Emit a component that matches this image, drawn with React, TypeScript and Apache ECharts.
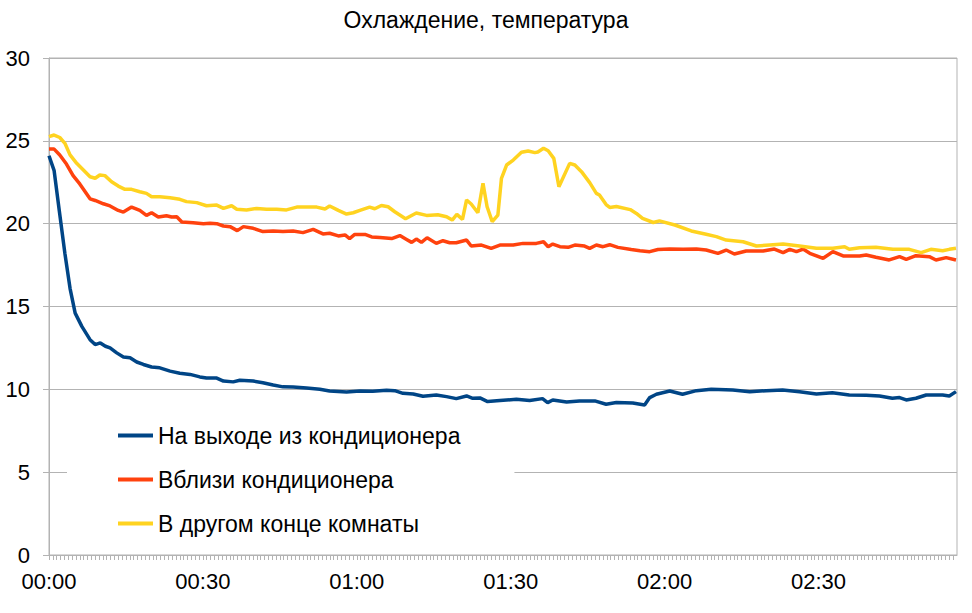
import React, { useEffect, useRef } from "react";
import * as echarts from "echarts";

const TITLE = "Охлаждение, температура";
const SERIES_NAMES = ["На выходе из кондиционера", "Вблизи кондиционера", "В другом конце комнаты"];
const COLORS = ["#004586", "#ff420e", "#ffd320"];

// time in minutes since 00:00
const blueT = [0, 1, 2, 3.1, 4.1, 5.1, 6.4, 8, 9, 10, 11, 11.9, 13.2, 14.5, 15.8, 17.1, 18.4, 20, 21.6, 23.6, 25.5, 27.5, 29.4, 30.7, 32.7, 34, 35.9, 37.2, 39.8, 41.7, 43.7, 45.6, 47.6, 50.2, 52.8, 54.7, 58, 60.6, 63.1, 65.8, 67.4, 69, 71, 72.9, 75.5, 77.5, 79.4, 81.4, 82.6, 84, 85.5, 87.9, 91.1, 93.7, 96.2, 97.2, 98.2, 100.9, 103.4, 106.4, 108.6, 110.6, 113.8, 116.1, 117.1, 118.4, 121, 123.5, 126.2, 129.1, 133.3, 136.6, 139.8, 143, 146.3, 149.6, 152.7, 156, 159.3, 161.9, 164.4, 165.8, 167.1, 169, 171, 174.2, 175.5, 176.8];
const blueV = [24.1, 23.2, 20.8, 18.2, 16.1, 14.6, 13.8, 13.0, 12.7, 12.8, 12.6, 12.5, 12.2, 11.95, 11.9, 11.65, 11.5, 11.35, 11.3, 11.1, 10.97, 10.9, 10.75, 10.68, 10.68, 10.5, 10.45, 10.55, 10.5, 10.4, 10.26, 10.15, 10.14, 10.08, 10.0, 9.9, 9.84, 9.9, 9.88, 9.94, 9.92, 9.76, 9.72, 9.58, 9.66, 9.56, 9.44, 9.6, 9.46, 9.48, 9.26, 9.32, 9.4, 9.32, 9.44, 9.2, 9.36, 9.24, 9.3, 9.3, 9.1, 9.2, 9.17, 9.05, 9.5, 9.7, 9.9, 9.7, 9.92, 10.0, 9.96, 9.86, 9.92, 9.96, 9.86, 9.72, 9.8, 9.66, 9.64, 9.6, 9.46, 9.5, 9.36, 9.46, 9.66, 9.66, 9.6, 9.86];

const redT = [0, 1, 2.1, 3.4, 4.7, 6, 8, 9, 10.6, 11.9, 13.5, 14.5, 16.1, 17.7, 19, 20, 21.3, 22.9, 23.9, 24.9, 25.9, 28.1, 30.1, 31.4, 32.7, 34, 35.3, 36.7, 37.9, 39.8, 41.7, 43.7, 45.6, 47.6, 49.5, 51.5, 53.4, 54.7, 56.4, 57.7, 58.6, 59.6, 61.6, 62.9, 64.5, 66.8, 68.4, 69.7, 70.7, 71.6, 72.6, 73.7, 75.5, 76.8, 78.1, 79.4, 81.4, 82.3, 84.3, 86.2, 87.9, 90.5, 92.4, 95, 96.4, 97.3, 98.2, 99.6, 101.2, 102.5, 104.4, 105.4, 106.7, 108, 109.3, 110.9, 113.5, 115.2, 117.1, 118.7, 121, 123.6, 126.2, 128.1, 130.4, 132, 133.6, 135.9, 139.2, 141.4, 143.1, 144.4, 145.7, 147, 148.3, 150.9, 152.8, 154.8, 158, 159.3, 161.2, 163.8, 165.8, 167.1, 169, 171.6, 172.9, 174.9, 176.8];
const redV = [24.5, 24.5, 24.15, 23.6, 22.9, 22.4, 21.5, 21.4, 21.2, 21.07, 20.8, 20.7, 21.0, 20.8, 20.5, 20.66, 20.4, 20.48, 20.4, 20.42, 20.1, 20.06, 20.0, 20.02, 20.0, 19.86, 19.82, 19.58, 19.82, 19.72, 19.52, 19.56, 19.52, 19.56, 19.46, 19.66, 19.38, 19.42, 19.26, 19.32, 19.1, 19.35, 19.35, 19.2, 19.17, 19.1, 19.28, 19.05, 18.87, 19.07, 18.87, 19.15, 18.81, 18.97, 18.85, 18.85, 19.01, 18.65, 18.71, 18.51, 18.71, 18.71, 18.81, 18.81, 18.91, 18.61, 18.77, 18.61, 18.57, 18.71, 18.65, 18.51, 18.71, 18.61, 18.73, 18.57, 18.44, 18.37, 18.31, 18.44, 18.47, 18.45, 18.47, 18.41, 18.21, 18.41, 18.17, 18.35, 18.35, 18.47, 18.25, 18.45, 18.31, 18.47, 18.21, 17.91, 18.31, 18.05, 18.05, 18.11, 17.97, 17.81, 18.01, 17.85, 18.07, 18.01, 17.81, 17.95, 17.81];

const yellowT = [0, 1, 2.1, 3.1, 4.1, 5.4, 6.7, 8, 9, 9.9, 10.9, 12.2, 13.5, 14.8, 16.1, 17.7, 19, 20, 21.6, 23.6, 25.5, 26.8, 28.8, 30.7, 32.7, 34, 35.6, 36.6, 38.5, 40.5, 42.4, 44.4, 46.3, 48.3, 50.2, 52.2, 53.8, 54.7, 56.4, 58, 59.3, 60.6, 62.5, 63.5, 64.8, 66.1, 67.4, 69.5, 71.6, 73.6, 75.8, 77.5, 78.6, 79.5, 80.6, 81.4, 82.3, 83.6, 84.6, 85.4, 86.4, 87.5, 88.2, 89.2, 90.5, 92.1, 93.4, 94.7, 95.3, 96.4, 97.3, 98.4, 99.4, 101.5, 102.5, 103.8, 105.4, 106.7, 107.3, 108.6, 109.3, 110.6, 113.3, 114.5, 115.7, 117.8, 119, 122, 125.2, 128.1, 130.1, 132, 135.3, 137.9, 140.5, 143.1, 146.3, 149.6, 152.8, 155.1, 156, 158, 161.2, 164.5, 167.7, 170, 171.9, 174.2, 175.5, 176.8];
const yellowV = [25.25, 25.35, 25.2, 24.85, 24.15, 23.64, 23.24, 22.83, 22.74, 22.94, 22.9, 22.53, 22.27, 22.07, 22.07, 21.93, 21.83, 21.63, 21.63, 21.57, 21.47, 21.33, 21.27, 21.08, 21.12, 20.92, 21.08, 20.87, 20.83, 20.92, 20.87, 20.87, 20.83, 21.0, 21.0, 21.0, 20.89, 21.07, 20.8, 20.58, 20.66, 20.8, 21.0, 20.9, 21.1, 21.02, 20.72, 20.3, 20.64, 20.5, 20.54, 20.42, 20.22, 20.56, 20.26, 21.43, 21.19, 20.66, 22.44, 21.02, 20.12, 20.52, 22.74, 23.54, 23.84, 24.31, 24.39, 24.29, 24.33, 24.55, 24.4, 23.94, 22.23, 23.64, 23.54, 23.14, 22.48, 21.83, 21.73, 21.15, 20.98, 21.04, 20.85, 20.62, 20.32, 20.07, 20.17, 19.92, 19.56, 19.36, 19.22, 19.01, 18.91, 18.65, 18.71, 18.77, 18.65, 18.51, 18.51, 18.61, 18.45, 18.55, 18.57, 18.45, 18.45, 18.25, 18.45, 18.37, 18.45, 18.51];

const X_MAX = 177;
const X_LABEL_STEP = 30;
const X_TICK_STEP = 0.75;
const Y_MAX = 30;
const Y_STEP = 5;

const FONT = "'Liberation Sans', Arial, sans-serif";
const GRAY = "#b3b3b3";

function pad(n: number) {
  return (n < 10 ? "0" : "") + n;
}

function zip(t: number[], v: number[]) {
  return t.map((x, i) => [x, v[i]]);
}

export default function App() {
  const ref = useRef<HTMLDivElement>(null);
  useEffect(() => {
    if (!ref.current) return;
    const chart = echarts.init(ref.current, null, { renderer: "svg" });
    const all = [zip(blueT, blueV), zip(redT, redV), zip(yellowT, yellowV)];
    chart.setOption({
      animation: false,
      backgroundColor: "#ffffff",
      textStyle: { fontFamily: FONT },
      title: {
        text: TITLE,
        left: "center",
        top: 3,
        textStyle: { fontFamily: FONT, fontSize: 23, fontWeight: "normal", color: "#000" },
      },
      grid: {
        left: 49,
        right: 15,
        top: 58,
        bottom: 58,
        show: true,
        borderColor: GRAY,
        borderWidth: 1,
        backgroundColor: "transparent",
      },
      legend: {
        orient: "vertical",
        left: 67,
        top: 410,
        padding: [14, 54, 14, 51],
        backgroundColor: "#ffffff",
        itemWidth: 35,
        itemHeight: 4,
        itemGap: 21,
        icon: "rect",
        textStyle: { fontFamily: FONT, fontSize: 23, color: "#000", lineHeight: 23 },
        data: SERIES_NAMES,
      },
      xAxis: {
        type: "value",
        min: 0,
        max: X_MAX,
        interval: X_TICK_STEP,
        axisLine: { show: true, lineStyle: { color: GRAY, width: 1 } },
        axisTick: { show: true, length: 5, lineStyle: { color: GRAY, width: 1 } },
        splitLine: { show: false },
        axisLabel: {
          fontFamily: FONT,
          fontSize: 22,
          color: "#000",
          margin: 15,
          showMaxLabel: false,
          formatter: (v: number) => {
            const r = v / X_LABEL_STEP;
            if (Math.abs(r - Math.round(r)) > 1e-6) return "";
            const m = Math.round(v);
            return pad(Math.floor(m / 60)) + ":" + pad(m % 60);
          },
        },
      },
      yAxis: {
        type: "value",
        min: 0,
        max: Y_MAX,
        interval: Y_STEP,
        axisLine: { show: true, lineStyle: { color: GRAY, width: 1 } },
        axisTick: { show: true, length: 6, lineStyle: { color: GRAY, width: 1 } },
        splitLine: { show: true, lineStyle: { color: GRAY, width: 1 } },
        axisLabel: { fontFamily: FONT, fontSize: 22, color: "#000", margin: 19 },
      },
      series: SERIES_NAMES.map((name, i) => ({
        name,
        type: "line",
        data: all[i],
        showSymbol: false,
        symbol: "none",
        color: COLORS[i],
        lineStyle: { color: COLORS[i], width: 3.5 },
        itemStyle: { color: COLORS[i] },
      })),
    });
    return () => chart.dispose();
  }, []);
  return <div ref={ref} style={{ position: "fixed", left: 0, top: 0, width: 972, height: 613 }} />;
}
